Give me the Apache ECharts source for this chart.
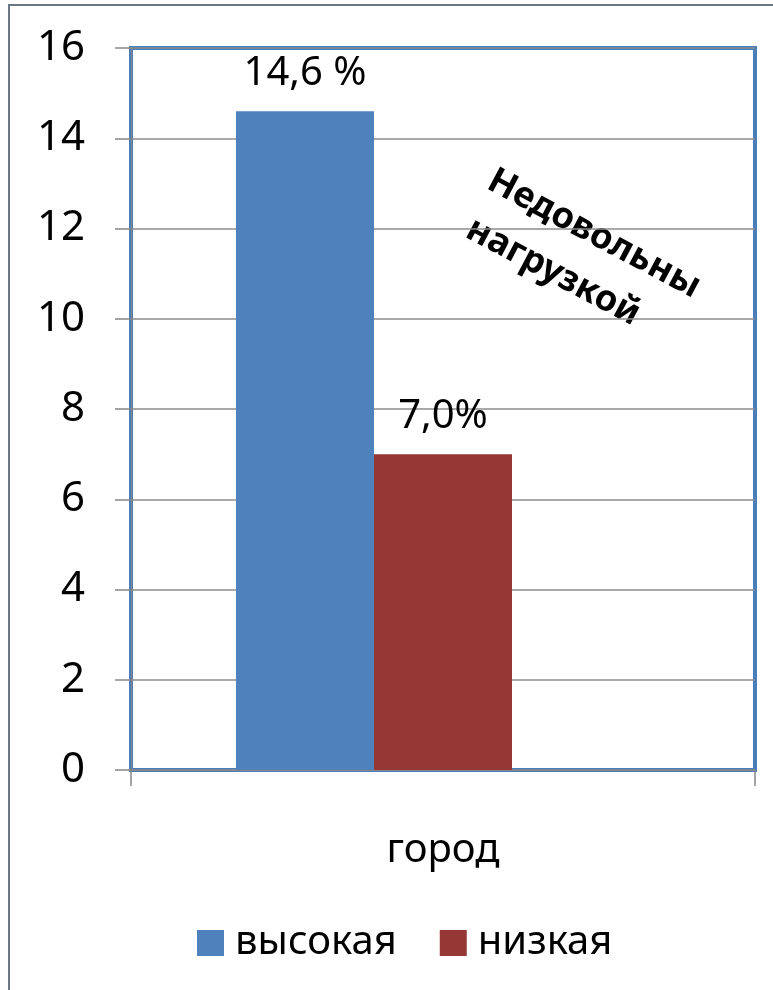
<!DOCTYPE html>
<html>
<head>
<meta charset="utf-8">
<script src="https://cdn.jsdelivr.net/npm/echarts@6/dist/echarts.min.js"></script>
<style>
html,body{margin:0;padding:0;background:#fff;}
#chart{width:773px;height:990px;}
</style>
</head>
<body>
<div id="chart"></div>
<script>
var categories=['город'];
var seriesNames=['высокая','низкая'];
var highValues=[14.6];
var lowValues=[7.0];
var highLabels=['14,6 %'];
var lowLabels=['7,0%'];
var emptyValues=[null];
var yTicks=[0,2,4,6,8,10,12,14,16];
var noteLines=['Недовольны','нагрузкой'];

var font='"Noto Sans", sans-serif';
var chart=echarts.init(document.getElementById('chart'));

var option={
    animation:false,
    backgroundColor:'#fff',
    textStyle:{fontFamily:font},
    grid:{
        left:131,
        right:18,
        top:48,
        bottom:220,
        show:true,
        borderColor:'#4a7ebb',
        borderWidth:4,
        backgroundColor:'transparent'
    },
    legend:{
        left:192,
        top:918,
        itemWidth:27,
        itemHeight:26,
        itemGap:43,
        icon:'rect',
        data:seriesNames,
        textStyle:{fontSize:40,color:'#000',fontFamily:font,padding:[0,0,0,6]}
    },
    xAxis:{
        type:'category',
        data:categories,
        axisLine:{show:true,lineStyle:{color:'#868686',width:1}},
        axisTick:{show:true,length:16,lineStyle:{color:'#868686',width:1.5}},
        axisLabel:{fontSize:40,color:'#000',margin:61,fontFamily:font},
        z:1
    },
    yAxis:{
        type:'value',
        min:yTicks[0],
        max:yTicks[yTicks.length-1],
        interval:2,
        axisLine:{show:true,lineStyle:{color:'#868686'}},
        axisTick:{show:true,length:16,lineStyle:{color:'#868686',width:1.5}},
        axisLabel:{fontSize:42,color:'#000',margin:46,fontFamily:font},
        splitLine:{show:true,lineStyle:{color:'#8c8c8c',width:1.5}}
    },
    series:[
        {
            name:seriesNames[0],
            type:'bar',
            data:highValues,
            barWidth:138,
            barGap:0,
            itemStyle:{color:'#4f81bd'},
            label:{
                show:true,
                position:'top',
                distance:18,
                fontSize:40,
                color:'#000',
                fontFamily:font,
                formatter:function(p){return highLabels[p.dataIndex];}
            }
        },
        {
            name:seriesNames[1],
            type:'bar',
            data:lowValues,
            barWidth:138,
            barGap:0,
            itemStyle:{color:'#953735'},
            label:{
                show:true,
                position:'top',
                distance:18,
                fontSize:40,
                color:'#000',
                fontFamily:font,
                formatter:function(p){return lowLabels[p.dataIndex];}
            }
        },
        {
            name:'',
            type:'bar',
            data:emptyValues,
            barWidth:138,
            barGap:0,
            silent:true
        }
    ],
    graphic:[
        {
            type:'rect',
            shape:{x:9,y:5,width:800,height:1000},
            style:{fill:'none',stroke:'#6b7785',lineWidth:2},
            silent:true
        },
        {
            type:'text',
            x:594,
            y:234,
            rotation:-28*Math.PI/180,
            style:{text:noteLines[0],font:'bold 36px '+font,fill:'#000',textAlign:'center',textVerticalAlign:'middle'}
        },
        {
            type:'text',
            x:553,
            y:272,
            rotation:-28*Math.PI/180,
            style:{text:noteLines[1],font:'bold 36px '+font,fill:'#000',textAlign:'center',textVerticalAlign:'middle'}
        }
    ]
};
chart.setOption(option);
</script>
</body>
</html>
